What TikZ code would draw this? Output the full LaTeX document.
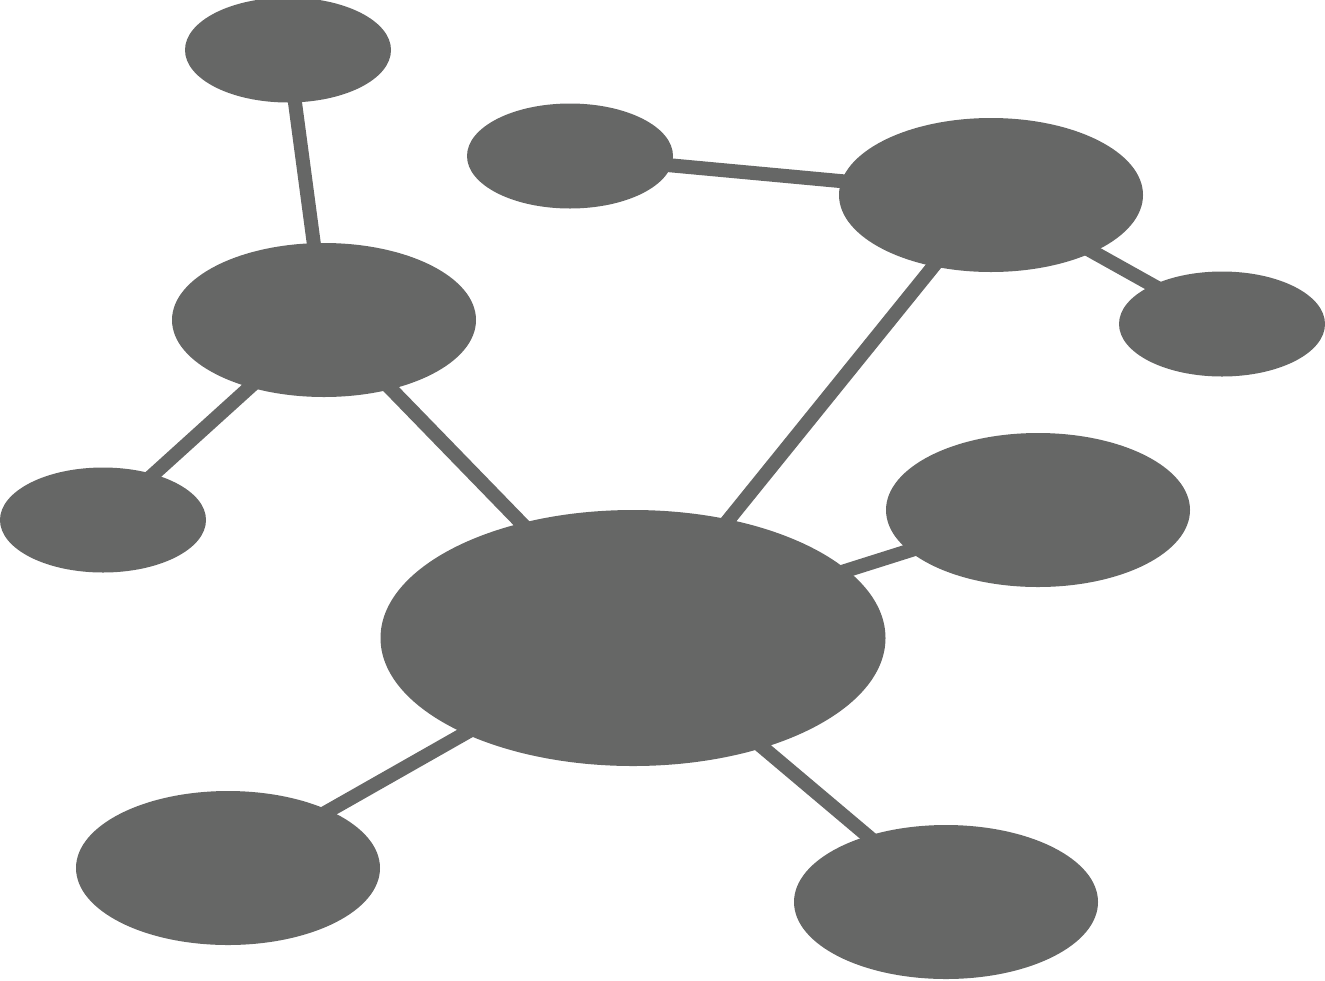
\documentclass[tikz,border=0pt]{standalone}
\usetikzlibrary{shapes.geometric,backgrounds}
\definecolor{nodegray}{HTML}{666766}
\tikzset{small/.style = {ellipse, fill=nodegray, inner sep=0pt, minimum width=2.06cm, minimum height=1.05cm},
         mid/.style = {ellipse, fill=nodegray, inner sep=0pt, minimum width=3.04cm, minimum height=1.54cm},
         big/.style = {ellipse, fill=nodegray, inner sep=0pt, minimum width=5.05cm, minimum height=2.56cm},
         link/.style = {draw=nodegray, line width=0.14cm}}
\begin{document}
\begin{tikzpicture}
    \useasboundingbox (0,0) rectangle (13.25,9.8);
    \node[big](hub)at(6.33,3.42){};
    \node[mid](left)at(3.24,6.60){};
    \node[small](lefttop)at(2.88,9.30){};
    \node[small](leftout)at(1.03,4.60){};
    \node[mid](right)at(9.91,7.85){};
    \node[small](righttop)at(5.70,8.24){};
    \node[small](rightout)at(12.22,6.56){};
    \node[mid](east)at(10.38,4.70){};
    \node[mid](sw)at(2.28,1.12){};
    \node[mid](se)at(9.46,0.78){};
    \begin{scope}[on background layer]
    \draw[link](lefttop.center)--(left.center);
    \draw[link](left.center)--(leftout.center);
    \draw[link](left.center)--(hub.center);
    \draw[link](righttop.center)--(right.center);
    \draw[link](right.center)--(rightout.center);
    \draw[link](right.center)--(hub.center);
    \draw[link](hub.center)--(east.center);
    \draw[link](hub.center)--(sw.center);
    \draw[link](hub.center)--(se.center);
    \end{scope}
\end{tikzpicture}
\end{document}
